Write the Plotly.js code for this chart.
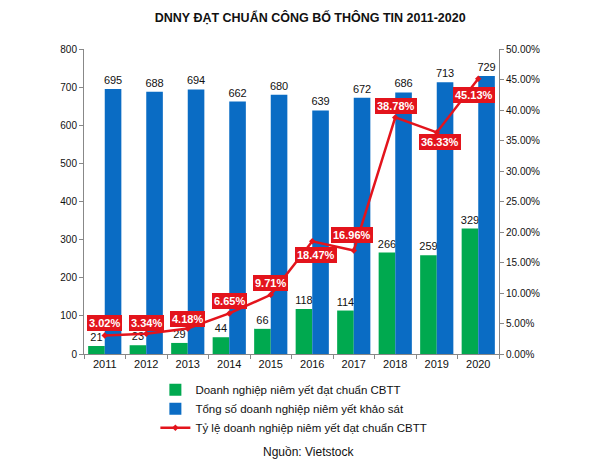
<!DOCTYPE html>
<html>
<head>
<meta charset="utf-8">
<script src="https://cdn.plot.ly/plotly-3.0.1.min.js"></script>
<style>html,body{margin:0;padding:0;background:#fff;}#chart{width:600px;height:464px;}</style>
</head>
<body>
<div id="chart"></div>
<script>
// ---- data ----
const years = ['2011','2012','2013','2014','2015','2016','2017','2018','2019','2020'];
const dnDatChuan = [21, 23, 29, 44, 66, 118, 114, 266, 259, 329];
const tongSoDN = [695, 688, 694, 662, 680, 639, 672, 686, 713, 729];
const tyLe = [0.0302, 0.0334, 0.0418, 0.0665, 0.0971, 0.1847, 0.1696, 0.3878, 0.3633, 0.4513];
const seriesNames = [
  'Doanh nghiệp niêm yết đạt chuẩn CBTT',
  'Tổng số doanh nghiệp niêm yết khảo sát',
  'Tỷ lệ doanh nghiệp niêm yết đạt chuẩn CBTT'
];
const leftTicks = [0, 100, 200, 300, 400, 500, 600, 700, 800];

// ---- label offsets (pixels) for percentage boxes ----
const pctShiftX = [0, 0, 0, 0, 0, 4, -2, 1, 3, -4];
const pctShiftY = [13, 11, 10, 12, 12, -14, 16, 11, -10, -16];

const FONT = 'Liberation Sans, Arial, sans-serif';
const GREEN = '#00a94f';
const BLUE = '#0a6cc4';
const RED = '#e3141c';

const traces = [
  {
    type: 'bar', x: years, y: dnDatChuan, name: seriesNames[0],
    marker: {color: GREEN},
    text: dnDatChuan.map(String), textposition: 'outside',
    textfont: {family: FONT, size: 11, color: '#111'},
    constraintext: 'none', cliponaxis: false, hoverinfo: 'skip'
  },
  {
    type: 'bar', x: years, y: tongSoDN, name: seriesNames[1],
    marker: {color: BLUE},
    text: tongSoDN.map(String), textposition: 'outside',
    textfont: {family: FONT, size: 11, color: '#111'},
    constraintext: 'none', cliponaxis: false, hoverinfo: 'skip'
  },
  {
    type: 'scatter', mode: 'lines+markers', x: years, y: tyLe, yaxis: 'y2',
    name: seriesNames[2],
    line: {color: RED, width: 2.5},
    marker: {color: RED, size: 5, symbol: 'diamond'},
    cliponaxis: false, hoverinfo: 'skip'
  }
];

const annotations = tyLe.map((v, i) => ({
  x: i, y: v, xref: 'x', yref: 'y2',
  text: '<b>' + (v * 100).toFixed(2) + '%</b>',
  showarrow: false,
  xshift: pctShiftX[i], yshift: pctShiftY[i],
  font: {family: FONT, size: 11, color: '#fff'},
  bgcolor: RED, borderpad: 1, bordercolor: RED, borderwidth: 1
}));
annotations.push({
  xref: 'paper', yref: 'paper', x: 0.54, y: -0.32, xanchor: 'center', yanchor: 'middle',
  text: 'Nguồn: Vietstock', showarrow: false,
  font: {family: FONT, size: 12, color: '#111'}
});

const layout = {
  width: 600, height: 464,
  margin: {l: 84, r: 101, t: 49, b: 110},
  paper_bgcolor: '#fff', plot_bgcolor: '#fff',
  font: {family: FONT, color: '#111'},
  title: {
    text: '<b>DNNY ĐẠT CHUẨN CÔNG BỐ THÔNG TIN 2011-2020</b>',
    font: {family: FONT, size: 12.5, color: '#111'},
    x: 0.517, xanchor: 'center', y: 0.963, yanchor: 'middle'
  },
  barmode: 'group', bargap: 0.2, bargroupgap: 0,
  showlegend: true,
  legend: {
    orientation: 'v', x: 0.172, xanchor: 'left', y: -0.07, yanchor: 'top',
    font: {family: FONT, size: 11.5, color: '#111'},
    tracegroupgap: 0, traceorder: 'normal', itemwidth: 30
  },
  xaxis: {
    type: 'category', range: [-0.5, years.length - 0.5], autorange: false,
    showline: true, linecolor: '#888', linewidth: 1,
    ticks: 'outside', tickson: 'boundaries', ticklen: 4, tickcolor: '#888',
    tickfont: {family: FONT, size: 11, color: '#111'},
    showgrid: false, zeroline: false, fixedrange: true
  },
  yaxis: {
    range: [0, 800], autorange: false, tickvals: leftTicks, showline: true, linecolor: '#888', linewidth: 1,
    ticks: 'outside', ticklen: 4, tickcolor: '#888',
    tickfont: {family: FONT, size: 10, color: '#111'},
    showgrid: false, zeroline: false, fixedrange: true
  },
  yaxis2: {
    overlaying: 'y', side: 'right', range: [0, 0.5], autorange: false, dtick: 0.05, tickformat: '.2%',
    showline: true, linecolor: '#888', linewidth: 1,
    ticks: 'outside', ticklen: 4, tickcolor: '#888',
    tickfont: {family: FONT, size: 10, color: '#111'},
    showgrid: false, zeroline: false, fixedrange: true
  },
  annotations: annotations
};

Plotly.newPlot('chart', traces, layout, {displayModeBar: false, staticPlot: true});
</script>
</body>
</html>
